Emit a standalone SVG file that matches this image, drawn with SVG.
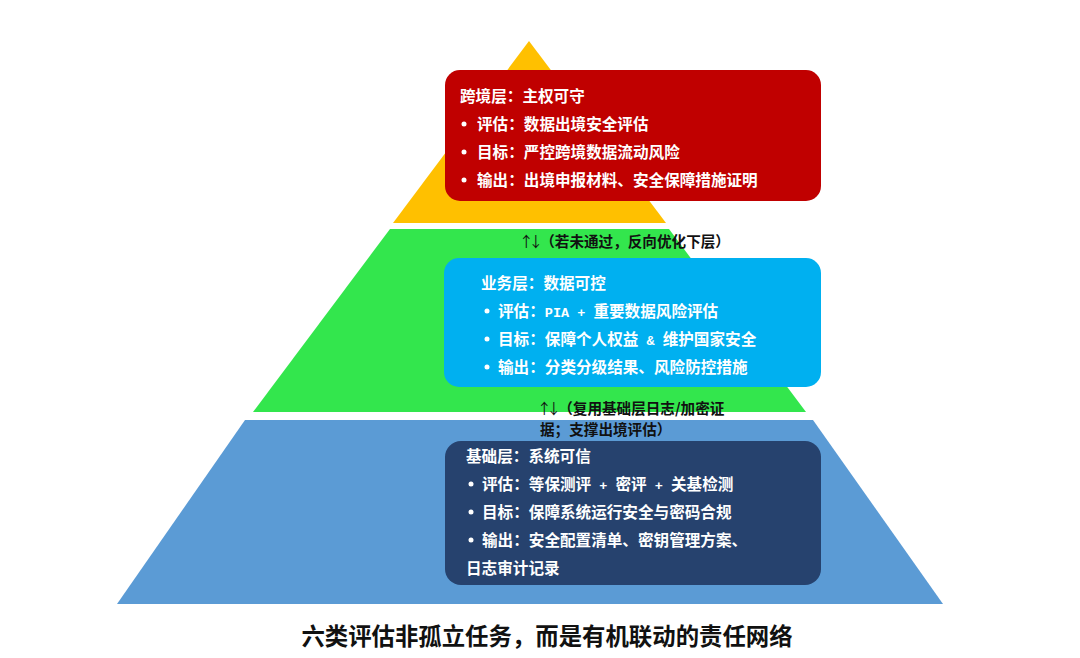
<svg xmlns="http://www.w3.org/2000/svg" width="1080" height="658" viewBox="0 0 1080 658">
<style>
.t{font-family:"Noto Sans CJK SC","Liberation Sans",sans-serif;font-weight:bold;font-size:15.6px;fill:#ffffff}
.m{font-family:"Liberation Mono",monospace;font-weight:bold;font-size:13.5px}
.a{font-family:"Noto Sans CJK SC","Liberation Sans",sans-serif;font-weight:bold;font-size:14.6px;fill:#111111}
.ar{font-weight:normal;letter-spacing:-5px}
.cap{font-family:"Noto Sans CJK SC","Liberation Sans",sans-serif;font-weight:bold;font-size:23.4px;fill:#111111}
.b{fill:#ffffff}
</style>
<rect width="1080" height="658" fill="#ffffff"/>
<g id="layer-top">
<polygon points="529,41 666,223 393,223" fill="#FFC000"/>
</g>
<g id="layer-middle">
<polygon points="390,229 669,229 806,412 253,412" fill="#33E64D"/>
</g>
<g id="layer-base">
<polygon points="245,420 813,420 943,604 117,604" fill="#5B9BD5"/>
</g>
<g id="node-crossborder">
<rect x="445" y="70" width="376" height="131" rx="15" fill="#C00000"/>
<text class="t" x="460" y="101.5">跨境层：主权可守</text>
<circle class="b" cx="464" cy="124" r="2.5"/>
<text class="t" x="477" y="129.5">评估：数据出境安全评估</text>
<circle class="b" cx="464" cy="152" r="2.5"/>
<text class="t" x="477" y="157.5">目标：严控跨境数据流动风险</text>
<circle class="b" cx="464" cy="180" r="2.5"/>
<text class="t" x="477" y="185.5">输出：出境申报材料、安全保障措施证明</text>
</g>
<g id="node-business">
<rect x="444" y="258" width="377" height="129" rx="15" fill="#00B0F0"/>
<text class="t" x="481" y="288.5">业务层：数据可控</text>
<circle class="b" cx="487" cy="311" r="2.5"/>
<text class="t" x="498" y="316.5" xml:space="preserve">评估：<tspan class="m">PIA + </tspan>重要数据风险评估</text>
<circle class="b" cx="487" cy="339" r="2.5"/>
<text class="t" x="498" y="344.5" xml:space="preserve">目标：保障个人权益<tspan class="m"> &amp; </tspan>维护国家安全</text>
<circle class="b" cx="487" cy="367" r="2.5"/>
<text class="t" x="498" y="372.5">输出：分类分级结果、风险防控措施</text>
</g>
<g id="node-foundation">
<rect x="445" y="441" width="376" height="144" rx="16" fill="#26426E"/>
<text class="t" x="466" y="461.5">基础层：系统可信</text>
<circle class="b" cx="471" cy="484" r="2.5"/>
<text class="t" x="482" y="489.5" xml:space="preserve">评估：等保测评<tspan class="m"> + </tspan>密评<tspan class="m"> + </tspan>关基检测</text>
<circle class="b" cx="471" cy="512" r="2.5"/>
<text class="t" x="482" y="517.5">目标：保障系统运行安全与密码合规</text>
<circle class="b" cx="471" cy="540" r="2.5"/>
<text class="t" x="482" y="545.5">输出：安全配置清单、密钥管理方案、</text>
<text class="t" x="466" y="573.5">日志审计记录</text>
</g>
<g id="connectors">
<text class="a" x="519" y="247"><tspan class="ar">↑↓</tspan><tspan dx="2">（若未通过，反向优化下层）</tspan></text>
<text class="a" x="537" y="414"><tspan class="ar">↑↓</tspan><tspan dx="2">（复用基础层日志/加密证</tspan></text>
<text class="a" x="540" y="435">据；支撑出境评估）</text>
</g>
<g id="caption">
<text class="cap" x="547" y="644.5" text-anchor="middle">六类评估非孤立任务，而是有机联动的责任网络</text>
</g>
</svg>
